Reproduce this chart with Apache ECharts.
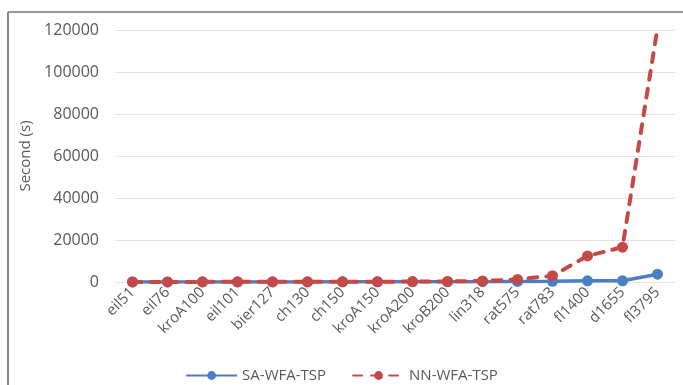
<!DOCTYPE html>
<html><head><meta charset="utf-8">
<script src="https://cdn.jsdelivr.net/npm/echarts@6/dist/echarts.min.js"></script>
<style>html,body{margin:0;padding:0;background:#fff}#c{width:683px;height:385px}</style>
</head><body><div id="c"></div>
<script>
const categories = ['eil51','eil76','kroA100','eil101','bier127','ch130','ch150','kroA150','kroA200','kroB200','lin318','rat575','rat783','fl1400','d1655','fl3795'];
const saValues = [20, 30, 40, 40, 50, 50, 60, 70, 90, 100, 150, 250, 300, 550, 600, 3700];
const nnValues = [30, 40, 60, 60, 80, 90, 110, 140, 200, 260, 500, 1200, 3000, 12400, 16600, 121000];
const yTicks = [0, 20000, 40000, 60000, 80000, 100000, 120000];
const seriesNames = ['SA-WFA-TSP', 'NN-WFA-TSP'];

const font = 'Open Sans, Liberation Sans, sans-serif';
const blue = '#4a7fc4', red = '#c44a48';
const chart = echarts.init(document.getElementById('c'));
chart.setOption({
  animation: false,
  backgroundColor: '#fff',
  grid: {left: 115, right: 8, top: 30, bottom: 103, containLabel: false},
  legend: {
    data: seriesNames, top: 363, left: 'center', itemWidth: 51, itemHeight: 11, itemGap: 26,
    textStyle: {color: '#595959', fontSize: 15, fontFamily: font}
  },
  xAxis: {
    type: 'category', data: categories, boundaryGap: true,
    axisLine: {show: false}, axisTick: {show: false},
    axisLabel: {rotate: 45, color: '#595959', fontSize: 15, fontFamily: font, margin: 8, interval: 0}
  },
  yAxis: {
    type: 'value', min: yTicks[0], max: yTicks[yTicks.length - 1], interval: 20000,
    name: 'Second (s)', nameLocation: 'middle', nameGap: 80, nameRotate: 90,
    nameTextStyle: {color: '#595959', fontSize: 15, fontFamily: font},
    axisLabel: {color: '#595959', fontSize: 16, fontFamily: font, margin: 16, formatter: v => String(v)},
    splitLine: {lineStyle: {color: '#e3e3e3', width: 1}},
    axisLine: {show: false}, axisTick: {show: false}
  },
  series: [
    {name: seriesNames[0], type: 'line', data: saValues, symbol: 'circle', symbolSize: 11,
      lineStyle: {color: blue, width: 3.5}, itemStyle: {color: blue}, z: 2, clip: true},
    {name: seriesNames[1], type: 'line', data: nnValues, symbol: 'circle', symbolSize: 11,
      lineStyle: {color: red, width: 4, type: [9, 9], cap: 'round'}, itemStyle: {color: red}, z: 3, clip: true}
  ],
  graphic: [
    {type: 'line', shape: {x1: 8, y1: 12, x2: 683, y2: 12}, style: {stroke: '#333', lineWidth: 1.2}},
    {type: 'line', shape: {x1: 8, y1: 12, x2: 8, y2: 385}, style: {stroke: '#888', lineWidth: 2}}
  ]
});
</script></body></html>
